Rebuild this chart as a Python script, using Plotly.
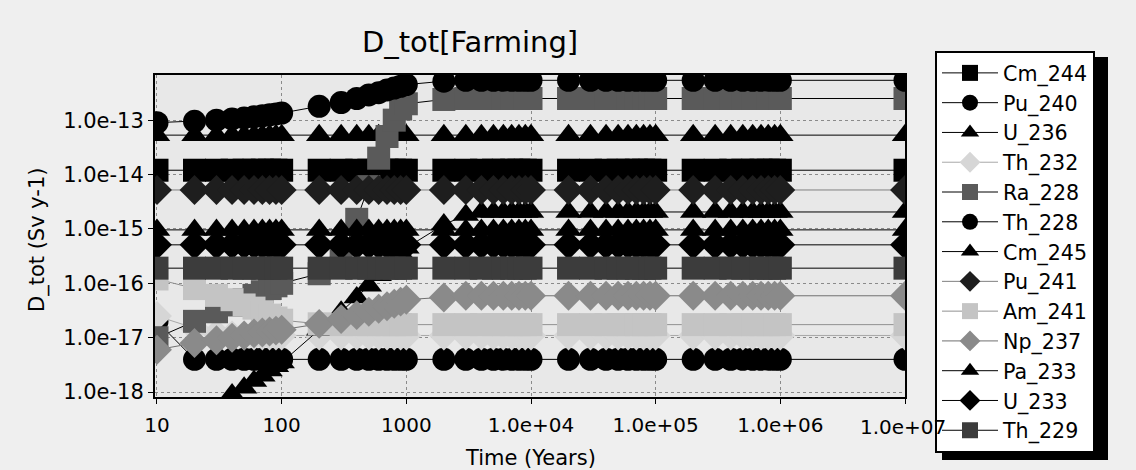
import plotly.graph_objects as go

# Time points (years)
t = [10, 20, 30, 40, 50, 60, 70, 80, 90,
     100, 200, 300, 400, 500, 600, 700, 800, 900,
     1000, 2000, 3000, 4000, 5000, 6000, 7000, 8000, 9000,
     10000, 20000, 30000, 40000, 50000, 60000, 70000, 80000, 90000,
     100000, 200000, 300000, 400000, 500000, 600000, 700000, 800000, 900000,
     1000000, 10000000]

cm244 = [1.2e-14, 1.2e-14, 1.2e-14, 1.2e-14, 1.2e-14, 1.2e-14, 1.2e-14, 1.2e-14, 1.2e-14,
         1.2e-14, 1.2e-14, 1.2e-14, 1.2e-14, 1.2e-14, 1.2e-14, 1.2e-14, 1.2e-14, 1.2e-14,
         1.2e-14, 1.2e-14, 1.2e-14, 1.2e-14, 1.2e-14, 1.2e-14, 1.2e-14, 1.2e-14, 1.2e-14,
         1.2e-14, 1.2e-14, 1.2e-14, 1.2e-14, 1.2e-14, 1.2e-14, 1.2e-14, 1.2e-14, 1.2e-14,
         1.2e-14, 1.2e-14, 1.2e-14, 1.2e-14, 1.2e-14, 1.2e-14, 1.2e-14, 1.2e-14, 1.2e-14,
         1.2e-14, 1.2e-14]
pu240 = [2.0e-17, 4.0e-18, 4.0e-18, 4.0e-18, 4.0e-18, 4.0e-18, 4.0e-18, 4.0e-18, 4.0e-18,
         4.0e-18, 4.0e-18, 4.0e-18, 4.0e-18, 4.0e-18, 4.0e-18, 4.0e-18, 4.0e-18, 4.0e-18,
         4.0e-18, 4.0e-18, 4.0e-18, 4.0e-18, 4.0e-18, 4.0e-18, 4.0e-18, 4.0e-18, 4.0e-18,
         4.0e-18, 4.0e-18, 4.0e-18, 4.0e-18, 4.0e-18, 4.0e-18, 4.0e-18, 4.0e-18, 4.0e-18,
         4.0e-18, 4.0e-18, 4.0e-18, 4.0e-18, 4.0e-18, 4.0e-18, 4.0e-18, 4.0e-18, 4.0e-18,
         4.0e-18, 4.0e-18]
u236 = [5.3e-14, 5.3e-14, 5.3e-14, 5.3e-14, 5.3e-14, 5.3e-14, 5.3e-14, 5.3e-14, 5.3e-14,
        5.3e-14, 5.3e-14, 5.3e-14, 5.3e-14, 5.3e-14, 5.3e-14, 5.3e-14, 5.3e-14, 5.3e-14,
        5.3e-14, 5.3e-14, 5.3e-14, 5.3e-14, 5.3e-14, 5.3e-14, 5.3e-14, 5.3e-14, 5.3e-14,
        5.3e-14, 5.3e-14, 5.3e-14, 5.3e-14, 5.3e-14, 5.3e-14, 5.3e-14, 5.3e-14, 5.3e-14,
        5.3e-14, 5.3e-14, 5.3e-14, 5.3e-14, 5.3e-14, 5.3e-14, 5.3e-14, 5.3e-14, 5.3e-14,
        5.3e-14, 5.3e-14]
th232 = [2.5e-17, 1.5e-17, 1.2e-17, 1.1e-17, 1.1e-17, 1.1e-17, 1.1e-17, 1.1e-17, 1.1e-17,
         1.1e-17, 1.1e-17, 1.1e-17, 1.1e-17, 1.1e-17, 1.1e-17, 1.1e-17, 1.1e-17, 1.1e-17,
         1.1e-17, 1.1e-17, 1.1e-17, 1.1e-17, 1.1e-17, 1.1e-17, 1.1e-17, 1.1e-17, 1.1e-17,
         1.1e-17, 1.1e-17, 1.1e-17, 1.1e-17, 1.1e-17, 1.1e-17, 1.1e-17, 1.1e-17, 1.1e-17,
         1.1e-17, 1.1e-17, 1.1e-17, 1.1e-17, 1.1e-17, 1.1e-17, 1.1e-17, 1.1e-17, 1.1e-17,
         1.1e-17, 1.1e-17]
ra228 = [1.0e-17, 2.0e-17, 3.0e-17, 4.0e-17, 5.0e-17, 6.0e-17, 7.0e-17, 8.0e-17, 9.0e-17,
         1.0e-16, 1.5e-16, 3.0e-16, 1.5e-15, 6.0e-15, 2.0e-14, 5.0e-14, 1.0e-13, 1.6e-13,
         2.0e-13, 2.4e-13, 2.5e-13, 2.5e-13, 2.5e-13, 2.5e-13, 2.5e-13, 2.5e-13, 2.5e-13,
         2.5e-13, 2.5e-13, 2.5e-13, 2.5e-13, 2.5e-13, 2.5e-13, 2.5e-13, 2.5e-13, 2.5e-13,
         2.5e-13, 2.5e-13, 2.5e-13, 2.5e-13, 2.5e-13, 2.5e-13, 2.5e-13, 2.5e-13, 2.5e-13,
         2.5e-13, 2.5e-13]
th228 = [0.90e-13, 0.95e-13, 1.0e-13, 1.05e-13, 1.1e-13, 1.15e-13, 1.2e-13, 1.25e-13, 1.3e-13,
         1.35e-13, 1.8e-13, 2.1e-13, 2.5e-13, 2.9e-13, 3.2e-13, 3.6e-13, 3.9e-13, 4.2e-13,
         4.5e-13, 5.2e-13, 5.4e-13, 5.4e-13, 5.4e-13, 5.4e-13, 5.4e-13, 5.4e-13, 5.4e-13,
         5.4e-13, 5.4e-13, 5.4e-13, 5.4e-13, 5.4e-13, 5.4e-13, 5.4e-13, 5.4e-13, 5.4e-13,
         5.4e-13, 5.4e-13, 5.4e-13, 5.4e-13, 5.4e-13, 5.4e-13, 5.4e-13, 5.4e-13, 5.4e-13,
         5.4e-13, 5.4e-13]
cm245 = [1.0e-19, 2.0e-19, 5.0e-19, 9.0e-19, 1.2e-18, 1.6e-18, 2.0e-18, 2.5e-18, 3.0e-18,
         3.5e-18, 1.4e-17, 3.0e-17, 5.5e-17, 9.0e-17, 1.4e-16, 2.0e-16, 2.8e-16, 3.6e-16,
         4.5e-16, 1.2e-15, 1.8e-15, 2.05e-15, 2.05e-15, 2.05e-15, 2.05e-15, 2.05e-15, 2.05e-15,
         2.05e-15, 2.05e-15, 2.05e-15, 2.05e-15, 2.05e-15, 2.05e-15, 2.05e-15, 2.05e-15, 2.05e-15,
         2.05e-15, 2.05e-15, 2.05e-15, 2.05e-15, 2.05e-15, 2.05e-15, 2.05e-15, 2.05e-15, 2.05e-15,
         2.05e-15, 2.05e-15]
pu241 = [5.2e-15, 5.2e-15, 5.2e-15, 5.2e-15, 5.2e-15, 5.2e-15, 5.2e-15, 5.2e-15, 5.2e-15,
         5.2e-15, 5.2e-15, 5.2e-15, 5.2e-15, 5.2e-15, 5.2e-15, 5.2e-15, 5.2e-15, 5.2e-15,
         5.2e-15, 5.2e-15, 5.2e-15, 5.2e-15, 5.2e-15, 5.2e-15, 5.2e-15, 5.2e-15, 5.2e-15,
         5.2e-15, 5.2e-15, 5.2e-15, 5.2e-15, 5.2e-15, 5.2e-15, 5.2e-15, 5.2e-15, 5.2e-15,
         5.2e-15, 5.2e-15, 5.2e-15, 5.2e-15, 5.2e-15, 5.2e-15, 5.2e-15, 5.2e-15, 5.2e-15,
         5.2e-15, 5.2e-15]
am241 = [1.2e-16, 8.0e-17, 6.0e-17, 5.0e-17, 4.0e-17, 3.5e-17, 3.0e-17, 2.6e-17, 2.3e-17,
         2.1e-17, 1.8e-17, 1.74e-17, 1.74e-17, 1.74e-17, 1.74e-17, 1.74e-17, 1.74e-17, 1.74e-17,
         1.74e-17, 1.74e-17, 1.74e-17, 1.74e-17, 1.74e-17, 1.74e-17, 1.74e-17, 1.74e-17, 1.74e-17,
         1.74e-17, 1.74e-17, 1.74e-17, 1.74e-17, 1.74e-17, 1.74e-17, 1.74e-17, 1.74e-17, 1.74e-17,
         1.74e-17, 1.74e-17, 1.74e-17, 1.74e-17, 1.74e-17, 1.74e-17, 1.74e-17, 1.74e-17, 1.74e-17,
         1.74e-17, 1.74e-17]
np237 = [6.0e-18, 8.0e-18, 9.0e-18, 1.0e-17, 1.1e-17, 1.2e-17, 1.25e-17, 1.3e-17, 1.35e-17,
         1.4e-17, 1.8e-17, 2.2e-17, 2.6e-17, 3.0e-17, 3.4e-17, 3.8e-17, 4.2e-17, 4.6e-17,
         5.0e-17, 5.5e-17, 5.9e-17, 5.9e-17, 5.9e-17, 5.9e-17, 5.9e-17, 5.9e-17, 5.9e-17,
         5.9e-17, 5.9e-17, 5.9e-17, 5.9e-17, 5.9e-17, 5.9e-17, 5.9e-17, 5.9e-17, 5.9e-17,
         5.9e-17, 5.9e-17, 5.9e-17, 5.9e-17, 5.9e-17, 5.9e-17, 5.9e-17, 5.9e-17, 5.9e-17,
         5.9e-17, 5.9e-17]
pa233 = [9.6e-16, 9.6e-16, 9.6e-16, 9.6e-16, 9.6e-16, 9.6e-16, 9.6e-16, 9.6e-16, 9.6e-16,
         9.6e-16, 9.6e-16, 9.6e-16, 9.6e-16, 9.6e-16, 9.6e-16, 9.6e-16, 9.6e-16, 9.6e-16,
         9.6e-16, 9.6e-16, 9.6e-16, 9.6e-16, 9.6e-16, 9.6e-16, 9.6e-16, 9.6e-16, 9.6e-16,
         9.6e-16, 9.6e-16, 9.6e-16, 9.6e-16, 9.6e-16, 9.6e-16, 9.6e-16, 9.6e-16, 9.6e-16,
         9.6e-16, 9.6e-16, 9.6e-16, 9.6e-16, 9.6e-16, 9.6e-16, 9.6e-16, 9.6e-16, 9.6e-16,
         9.6e-16, 9.6e-16]
u233 = [5.1e-16, 5.1e-16, 5.1e-16, 5.1e-16, 5.1e-16, 5.1e-16, 5.1e-16, 5.1e-16, 5.1e-16,
        5.1e-16, 5.1e-16, 5.1e-16, 5.1e-16, 5.1e-16, 5.1e-16, 5.1e-16, 5.1e-16, 5.1e-16,
        5.1e-16, 5.1e-16, 5.1e-16, 5.1e-16, 5.1e-16, 5.1e-16, 5.1e-16, 5.1e-16, 5.1e-16,
        5.1e-16, 5.1e-16, 5.1e-16, 5.1e-16, 5.1e-16, 5.1e-16, 5.1e-16, 5.1e-16, 5.1e-16,
        5.1e-16, 5.1e-16, 5.1e-16, 5.1e-16, 5.1e-16, 5.1e-16, 5.1e-16, 5.1e-16, 5.1e-16,
        5.1e-16, 5.1e-16]
th229 = [1.9e-16, 1.9e-16, 1.9e-16, 1.9e-16, 1.9e-16, 1.9e-16, 1.9e-16, 1.9e-16, 1.9e-16,
         1.9e-16, 1.9e-16, 1.9e-16, 1.9e-16, 1.9e-16, 1.9e-16, 1.9e-16, 1.9e-16, 1.9e-16,
         1.9e-16, 1.9e-16, 1.9e-16, 1.9e-16, 1.9e-16, 1.9e-16, 1.9e-16, 1.9e-16, 1.9e-16,
         1.9e-16, 1.9e-16, 1.9e-16, 1.9e-16, 1.9e-16, 1.9e-16, 1.9e-16, 1.9e-16, 1.9e-16,
         1.9e-16, 1.9e-16, 1.9e-16, 1.9e-16, 1.9e-16, 1.9e-16, 1.9e-16, 1.9e-16, 1.9e-16,
         1.9e-16, 1.9e-16]

names = ["Cm_244", "Pu_240", "U_236", "Th_232", "Ra_228", "Th_228", "Cm_245",
         "Pu_241", "Am_241", "Np_237", "Pa_233", "U_233", "Th_229"]
series = [cm244, pu240, u236, th232, ra228, th228, cm245,
          pu241, am241, np237, pa233, u233, th229]
symbols = ["square", "circle", "triangle-up", "diamond", "square", "circle", "triangle-up",
           "diamond", "square", "diamond", "triangle-up", "diamond", "square"]
mcolors = ["#000000", "#000000", "#000000", "#d6d6d6", "#5a5a5a", "#000000", "#000000",
           "#1e1e1e", "#c4c4c4", "#8a8a8a", "#000000", "#000000", "#3c3c3c"]
lcolors = ["#000000", "#000000", "#000000", "#a8a8a8", "#000000", "#000000", "#000000",
           "#808080", "#909090", "#707070", "#000000", "#000000", "#000000"]

tick_y = [1e-13, 1e-14, 1e-15, 1e-16, 1e-17, 1e-18]
tick_y_text = ["1.0e-13", "1.0e-14", "1.0e-15", "1.0e-16", "1.0e-17", "1.0e-18"]
tick_x = [10, 100, 1000, 1e4, 1e5, 1e6, 1e7]
tick_x_text = ["10", "100", "1000", "1.0e+04", "1.0e+05", "1.0e+06", ""]
last_x_label = "1.0e+07"   # drawn over the legend edge, as in the original

FONT = "DejaVu Sans, sans-serif"

fig = go.Figure()
for name, ys, sym, mc, lc in zip(names, series, symbols, mcolors, lcolors):
    fig.add_trace(go.Scatter(
        x=t, y=ys, name=name, mode="lines+markers",
        line=dict(color=lc, width=1),
        marker=dict(symbol=sym, size=23, color=mc, line=dict(width=0)),
    ))

# px -> paper helpers for the plot area (x 155..905, y 75..397)
L, R, T, B = 155, 905, 75, 397
def px(x):
    return (x - L) / (R - L)
def py(y):
    return (B - y) / (B - T)

fig.update_layout(
    width=1136, height=470,
    margin=dict(l=L, r=1136 - R, t=T, b=470 - B),
    paper_bgcolor="#efefef",
    plot_bgcolor="#e8e8e8",
    font=dict(family=FONT, color="#000000"),
    showlegend=True,
    title=dict(text="D_tot[Farming]", x=470 / 1136, xref="container", xanchor="center",
               y=1 - 42 / 470, yref="container", yanchor="middle",
               font=dict(size=29, family=FONT, color="#000000")),
    legend=dict(x=px(935), y=py(51), xanchor="left", yanchor="top",
                bgcolor="#ffffff", bordercolor="#000000", borderwidth=2,
                font=dict(size=20.6, family=FONT, color="#000000"),
                itemwidth=56, traceorder="normal", itemsizing="trace",
                maxheight=440),
    xaxis=dict(type="log", range=[0.984, 7.0], tickvals=tick_x, ticktext=tick_x_text,
               showgrid=True, gridcolor="#8a8a8a", griddash="dot", gridwidth=1,
               showline=True, linecolor="#000000", linewidth=2, mirror=True,
               ticks="outside", ticklen=5, tickcolor="#000000", ticklabelstandoff=4,
               tickfont=dict(size=20, family=FONT), layer="above traces", zeroline=False),
    yaxis=dict(type="log", range=[-18.09, -12.17], tickvals=tick_y, ticktext=tick_y_text,
               showgrid=True, gridcolor="#8a8a8a", griddash="dot", gridwidth=1,
               showline=True, linecolor="#000000", linewidth=2, mirror=True,
               ticks="outside", ticklen=5, tickcolor="#000000",
               tickfont=dict(size=21, family=FONT), layer="above traces", zeroline=False),
    shapes=[dict(type="rect", xref="paper", yref="paper",
                 x0=px(942), x1=px(1108), y0=py(460), y1=py(57),
                 fillcolor="#000000", line=dict(width=0), layer="above")],
    annotations=[
        dict(text=last_x_label, xref="paper", yref="paper", x=px(903), y=py(427),
             showarrow=False, xanchor="center", yanchor="middle",
             font=dict(size=20, family=FONT, color="#000000")),
        dict(text="Time (Years)", xref="paper", yref="paper", x=px(530), y=py(458),
             showarrow=False, xanchor="center", yanchor="middle",
             font=dict(size=21, family=FONT, color="#000000")),
        dict(text="D_tot (Sv y-1)", xref="paper", yref="paper", x=px(37), y=py(240),
             showarrow=False, xanchor="center", yanchor="middle", textangle=-90,
             font=dict(size=21, family=FONT, color="#000000")),
    ],
)

fig.write_html("out.html", config={"displayModeBar": False},
               post_script="document.body.style.margin='0';document.body.style.overflow='hidden';")
